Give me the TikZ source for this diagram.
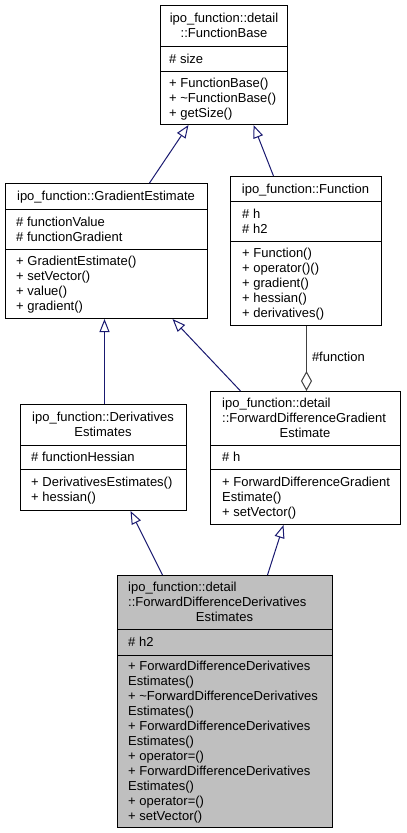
\documentclass[tikz,border=0pt]{standalone}
\usepackage{fontspec}
\setmainfont{Liberation Sans}
\usetikzlibrary{arrows.meta}
\definecolor{edgeblue}{HTML}{191970}
\definecolor{aggrey}{HTML}{404040}
\definecolor{clsfill}{HTML}{BFBFBF}
\newcommand\blockL[1]{\begin{tabular}{@{}l@{}}#1\end{tabular}}
\newcommand\blockC[1]{\begin{tabular}{@{}c@{}}#1\end{tabular}}
\begin{document}
\begin{tikzpicture}[x=1pt,y=-1pt,
  box/.style={draw=black,line width=1pt,rectangle,inner sep=0pt,anchor=north west},
  sepline/.style={draw=black,line width=1pt},
  txt/.style={inner sep=0pt,font=\fontsize{13pt}{15pt}\selectfont,yshift=-1.5pt},
  inh/.style={draw=edgeblue,line width=1pt,-{Triangle[open,length=13pt,width=10pt]}},
  agg/.style={draw=aggrey,line width=1pt,-{Diamond[open,length=20pt,width=11pt]}}]
\useasboundingbox (0,0) rectangle (407,833);

% FunctionBase
\node[box,minimum width=127pt,minimum height=119pt] (fb) at (160,5) {};
\draw[sepline] (160,46) -- (287,46);
\draw[sepline] (160,71) -- (287,71);
\node[txt] (fbT) at (224,25.5) {\blockC{ipo\_function::detail\\::FunctionBase}};
\node[txt,anchor=west] (fbA) at (169,58.5) {\blockL{\# size}};
\node[txt,anchor=west] (fbM) at (169,97.5) {\blockL{+ FunctionBase()\\+ \textasciitilde FunctionBase()\\+ getSize()}};

% GradientEstimate
\node[box,minimum width=202pt,minimum height=135pt] (ge) at (5,183) {};
\draw[sepline] (5,209) -- (207,209);
\draw[sepline] (5,249) -- (207,249);
\node[txt] (geT) at (106,196) {\blockC{ipo\_function::GradientEstimate}};
\node[txt,anchor=west] (geA) at (16,229) {\blockL{\# functionValue\\\# functionGradient}};
\node[txt,anchor=west] (geM) at (16,283.5) {\blockL{+ GradientEstimate()\\+ setVector()\\+ value()\\+ gradient()}};

% Function
\node[box,minimum width=151pt,minimum height=149pt] (fn) at (230,176) {};
\draw[sepline] (230,201) -- (381,201);
\draw[sepline] (230,241) -- (381,241);
\node[txt] (fnT) at (305.5,188.5) {\blockC{ipo\_function::Function}};
\node[txt,anchor=west] (fnA) at (242,221) {\blockL{\# h\\\# h2}};
\node[txt,anchor=west] (fnM) at (242,283) {\blockL{+ Function()\\+ operator()()\\+ gradient()\\+ hessian()\\+ derivatives()}};

% DerivativesEstimates
\node[box,minimum width=166pt,minimum height=106pt] (de) at (20,404) {};
\draw[sepline] (20,445) -- (186,445);
\draw[sepline] (20,469) -- (186,469);
\node[txt] (deT) at (103,424.5) {\blockC{ipo\_function::Derivatives\\Estimates}};
\node[txt,anchor=west] (deA) at (31,457) {\blockL{\# functionHessian}};
\node[txt,anchor=west] (deM) at (31,489.5) {\blockL{+ DerivativesEstimates()\\+ hessian()}};

% ForwardDifferenceGradientEstimate
\node[box,minimum width=190pt,minimum height=133pt] (fdge) at (210,391) {};
\draw[sepline] (210,445) -- (400,445);
\draw[sepline] (210,469) -- (400,469);
\node[txt,anchor=west] (fdgeT) at (222,410.5) {\blockL{ipo\_function::detail\\::ForwardDifferenceGradient}};
\node[txt] (fdgeT2) at (305,433) {\blockC{Estimate}};
\node[txt,anchor=west] (fdgeA) at (222,457) {\blockL{\# h}};
\node[txt,anchor=west] (fdgeM) at (222,496.5) {\blockL{+ ForwardDifferenceGradient\\Estimate()\\+ setVector()}};

% ForwardDifferenceDerivativesEstimates
\node[box,fill=clsfill,minimum width=215pt,minimum height=252pt] (fdde) at (117,575) {};
\draw[sepline] (117,629) -- (332,629);
\draw[sepline] (117,655) -- (332,655);
\node[txt,anchor=west] (fddeT) at (128,594.5) {\blockL{ipo\_function::detail\\::ForwardDifferenceDerivatives}};
\node[txt] (fddeT2) at (224.5,617) {\blockC{Estimates}};
\node[txt,anchor=west] (fddeA) at (128,642) {\blockL{\# h2}};
\node[txt,anchor=west] (fddeM) at (128,741) {\blockL{+ ForwardDifferenceDerivatives\\Estimates()\\+ \textasciitilde ForwardDifferenceDerivatives\\Estimates()\\+ ForwardDifferenceDerivatives\\Estimates()\\+ operator=()\\+ ForwardDifferenceDerivatives\\Estimates()\\+ operator=()\\+ setVector()}};

% connectors
\draw[inh] ([xshift=43pt]ge.north) -- ([xshift=-35.5pt]fb.south);
\draw[inh] ([xshift=-32.5pt]fn.north) -- ([xshift=29.5pt]fb.south);
\draw[inh] ([xshift=1pt]de.north) -- ([xshift=-2pt]ge.south);
\draw[inh] ([xshift=-65pt]fdge.north) -- ([xshift=66pt]ge.south);
\draw[inh] ([xshift=-62.5pt]fdde.north) -- ([xshift=27pt]de.south);
\draw[inh] ([xshift=42.5pt]fdde.north) -- ([xshift=-22pt]fdge.south);
\draw[agg] ([xshift=0.5pt]fn.south) -- ([xshift=1pt]fdge.north)
  node[txt,pos=0.45,anchor=west,xshift=5pt] (aggl) {\#function};
\end{tikzpicture}
\end{document}
